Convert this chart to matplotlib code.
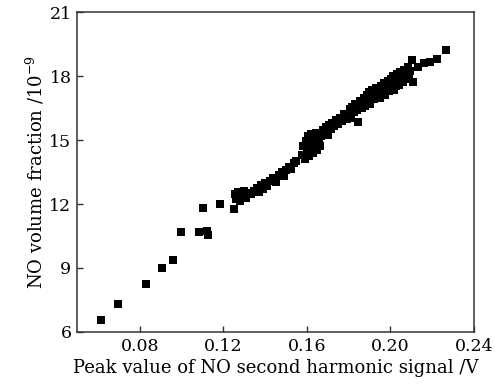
import matplotlib
matplotlib.use("Agg")
import matplotlib.pyplot as plt

# Peak value of NO second harmonic signal (V)
x_low = [0.0613, 0.0696, 0.0829, 0.0906, 0.0958, 0.1000, 0.1085, 0.1102, 0.1120, 0.1125, 0.1184, 0.1251]
y_low = [6.56, 7.31, 8.23, 9.01, 9.36, 10.70, 10.70, 11.81, 10.75, 10.55, 12.00, 11.75]

x_band = [0.1255, 0.1262, 0.1270, 0.1280, 0.1290, 0.1300, 0.1310, 0.1320, 0.1335, 0.1345,
          0.1360, 0.1370, 0.1380, 0.1390, 0.1400, 0.1410, 0.1425, 0.1440, 0.1450,
          0.1465, 0.1480, 0.1490, 0.1500, 0.1515, 0.1525, 0.1540, 0.1550,
          0.1575, 0.1580, 0.1590, 0.1595, 0.1600, 0.1605, 0.1610, 0.1615, 0.1620, 0.1625,
          0.1630, 0.1635, 0.1640, 0.1645, 0.1650, 0.1660, 0.1665, 0.1670, 0.1675,
          0.1685, 0.1690, 0.1700, 0.1705, 0.1715, 0.1720, 0.1730, 0.1740, 0.1750,
          0.1760, 0.1770, 0.1780, 0.1790]
y_band = [12.45, 12.25, 12.55, 12.15, 12.40, 12.60, 12.30, 12.50, 12.45, 12.60,
          12.75, 12.55, 12.90, 12.70, 13.00, 12.85, 13.10, 13.20, 13.05,
          13.35, 13.50, 13.30, 13.60, 13.75, 13.65, 13.90, 14.00,
          14.30, 14.70, 14.10, 14.95, 14.50, 15.20, 14.25, 14.80, 15.30, 14.60,
          14.40, 15.05, 14.75, 15.35, 14.55, 15.00, 14.70, 15.20, 15.45,
          15.35, 15.60, 15.25, 15.70, 15.50, 15.80, 15.65, 15.95, 15.75,
          16.05, 15.90, 16.20, 16.00]

x_dense = [0.1800, 0.1805, 0.1812, 0.1818, 0.1825, 0.1830, 0.1838, 0.1847, 0.1850, 0.1856,
           0.1862, 0.1868, 0.1875, 0.1880, 0.1886, 0.1892, 0.1898, 0.1903, 0.1908, 0.1914,
           0.1920, 0.1925, 0.1930, 0.1936, 0.1942, 0.1948, 0.1953, 0.1958, 0.1964, 0.1970,
           0.1975, 0.1980, 0.1986, 0.1992, 0.1997, 0.2002, 0.2008, 0.2013, 0.2015, 0.2020,
           0.2025, 0.2030, 0.2036, 0.2042, 0.2048, 0.2053, 0.2058, 0.2063, 0.2068, 0.2074,
           0.2080, 0.2085, 0.2090, 0.2096, 0.2101, 0.2106, 0.2133, 0.2159, 0.2188, 0.2221, 0.2264]
y_dense = [16.20, 16.45, 16.05, 16.55, 16.30, 16.70, 16.40, 15.84, 16.60, 16.85,
           16.50, 16.75, 16.95, 16.60, 17.10, 16.80, 17.25, 16.70, 17.00, 17.35,
           16.90, 17.15, 17.45, 17.05, 17.30, 16.95, 17.55, 17.20, 17.40, 17.65,
           17.10, 17.50, 17.75, 17.30, 17.60, 17.85, 17.45, 18.00, 17.34, 17.70,
           17.55, 18.10, 17.85, 17.60, 18.20, 17.95, 17.70, 18.30, 18.05, 17.85,
           18.15, 18.40, 17.90, 18.25, 18.75, 17.72, 18.42, 18.61, 18.66, 18.80, 19.22]

x_ticks = [0.08, 0.12, 0.16, 0.20, 0.24]
y_ticks = [6, 9, 12, 15, 18, 21]

plt.rcParams['font.family'] = ['DejaVu Serif']
plt.rcParams['mathtext.fontset'] = 'dejavuserif'

fig = plt.figure(figsize=(4.95, 3.86), dpi=100)
ax = fig.add_axes([0.1556, 0.1399, 0.8020, 0.8290])

for xs, ys in [(x_low, y_low), (x_band, y_band), (x_dense, y_dense)]:
    ax.plot(xs, ys, linestyle='none', marker='s', markersize=5.2,
            color='black', markeredgewidth=0)

ax.set_xlim(0.05, 0.24)
ax.set_ylim(6, 21)
ax.set_xticks(x_ticks)
ax.set_xticklabels([f"{v:.2f}" for v in x_ticks])
ax.set_yticks(y_ticks)
ax.set_yticklabels([str(v) for v in y_ticks])
ax.tick_params(direction='in', length=4, width=1, colors='#333333',
               labelcolor='black', labelsize=12.5, pad=4)
for s in ax.spines.values():
    s.set_color('#333333')
    s.set_linewidth(1.1)

ax.set_xlabel('Peak value of NO second harmonic signal /V', fontsize=13, labelpad=3)
ax.set_ylabel(r'NO volume fraction /10$^{-9}$', fontsize=13, labelpad=2)

fig.savefig('out.png', dpi=100)
